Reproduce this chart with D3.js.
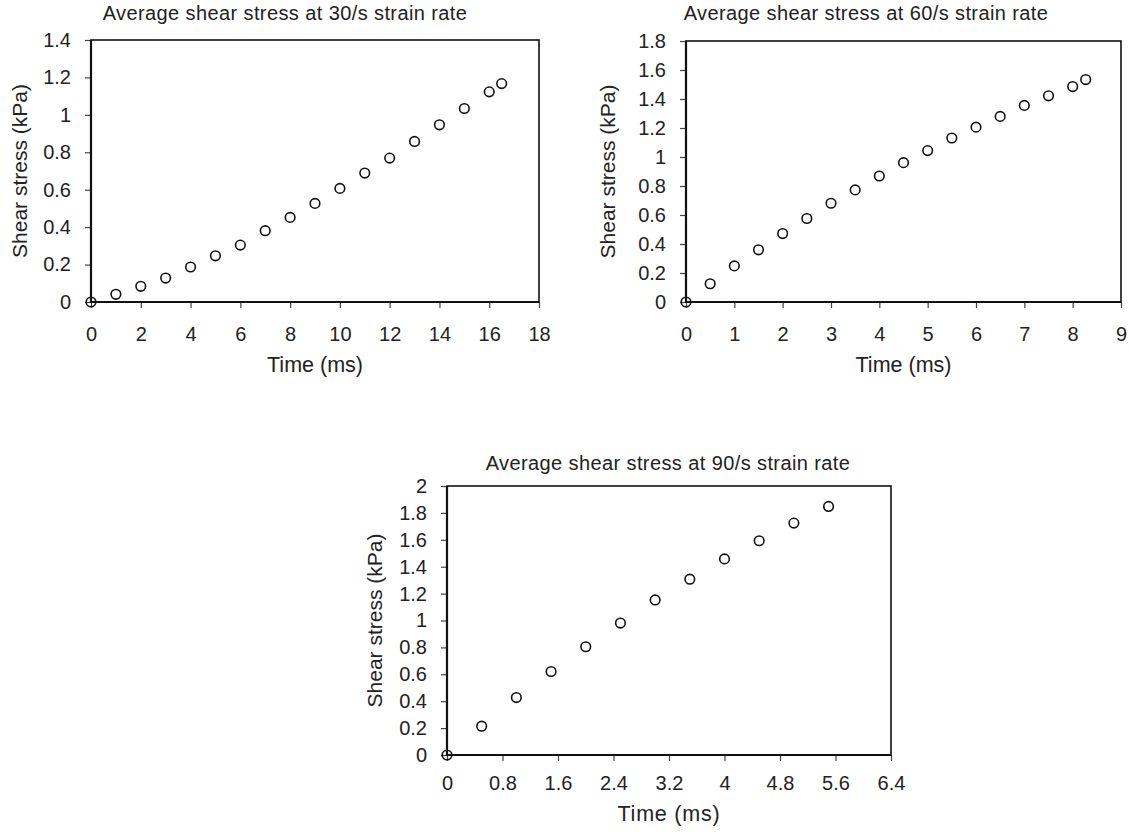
<!doctype html>
<html>
<head>
<meta charset="utf-8">
<script src="https://d3js.org/d3.v7.min.js"></script>
<style>
  body { margin: 0; background: #fff; }
  text { font-family: "Liberation Sans", Arial, sans-serif; fill: #222; }
  .tick line { stroke: #444; stroke-width: 1.2; }
  .tick text { font-size: 20px; }
</style>
</head>
<body>
<svg width="1130" height="833"></svg>
<script>
// 30/s strain rate
var time30 = [0, 1, 2, 3, 4, 5, 6, 7, 8, 9, 10, 11, 12, 13, 14, 15, 16, 16.5];
var stress30 = [0, 0.041, 0.084, 0.128, 0.187, 0.247, 0.304, 0.381, 0.452, 0.527, 0.607, 0.689, 0.769, 0.858, 0.947, 1.034, 1.123, 1.167];
var xTicks30 = [0, 2, 4, 6, 8, 10, 12, 14, 16, 18];
var yTicks30 = [0, 0.2, 0.4, 0.6, 0.8, 1, 1.2, 1.4];

// 60/s strain rate
var time60 = [0, 0.5, 1, 1.5, 2, 2.5, 3, 3.5, 4, 4.5, 5, 5.5, 6, 6.5, 7, 7.5, 8, 8.27];
var stress60 = [0, 0.126, 0.249, 0.360, 0.472, 0.576, 0.681, 0.773, 0.869, 0.961, 1.044, 1.131, 1.206, 1.280, 1.356, 1.422, 1.486, 1.534];
var xTicks60 = [0, 1, 2, 3, 4, 5, 6, 7, 8, 9];
var yTicks60 = [0, 0.2, 0.4, 0.6, 0.8, 1, 1.2, 1.4, 1.6, 1.8];

// 90/s strain rate
var time90 = [0, 0.5, 1, 1.5, 2, 2.5, 3, 3.5, 4, 4.5, 5, 5.5];
var stress90 = [0, 0.214, 0.427, 0.621, 0.805, 0.981, 1.153, 1.307, 1.458, 1.593, 1.724, 1.848];
var xTicks90 = [0, 0.8, 1.6, 2.4, 3.2, 4, 4.8, 5.6, 6.4];
var yTicks90 = [0, 0.2, 0.4, 0.6, 0.8, 1, 1.2, 1.4, 1.6, 1.8, 2];

var svg = d3.select("svg");
var fmt = function(d) { return String(+d.toFixed(1)); };

function drawPanel(p) {
    var x = d3.scaleLinear().domain([0, p.xMax]).range([p.left, p.right]);
    var y = d3.scaleLinear().domain([0, p.yMax]).range([p.bottom, p.top]);
    var g = svg.append("g");

    g.append("text")
     .attr("x", p.titleX)
     .attr("y", p.titleY)
     .attr("text-anchor", "middle")
     .attr("font-size", "20px")
     .attr("letter-spacing", "0.4px")
     .text(p.title);

    var ax = g.append("g")
              .attr("transform", "translate(0," + p.bottom + ")")
              .call(d3.axisBottom(x).tickValues(p.xTicks).tickFormat(fmt).tickSize(6).tickPadding(p.xPad));
    ax.select(".domain").remove();

    var ay = g.append("g")
              .attr("transform", "translate(" + p.left + ",0)")
              .call(d3.axisLeft(y).tickValues(p.yTicks).tickFormat(fmt).tickSize(6).tickPadding(14));
    ay.select(".domain").remove();

    // plot frame
    g.append("rect")
     .attr("x", p.left).attr("y", p.top)
     .attr("width", p.right - p.left).attr("height", p.bottom - p.top)
     .attr("fill", "none").attr("stroke", "#111").attr("stroke-width", 1.6);
    g.append("path")
     .attr("d", "M" + p.left + "," + p.top + "V" + p.bottom + "H" + p.right)
     .attr("fill", "none").attr("stroke", "#111").attr("stroke-width", 2.2);

    g.append("text")
     .attr("x", (p.left + p.right) / 2)
     .attr("y", p.xLabelY)
     .attr("text-anchor", "middle")
     .attr("font-size", "21.5px")
     .attr("letter-spacing", p.xLabelSpacing)
     .text("Time (ms)");

    g.append("text")
     .attr("transform", "translate(" + p.yLabelX + "," + ((p.top + p.bottom) / 2) + ") rotate(-90)")
     .attr("text-anchor", "middle")
     .attr("dominant-baseline", "central")
     .attr("font-size", "21px")
     .text("Shear stress (kPa)");

    g.selectAll("circle.pt")
     .data(p.xs)
     .enter().append("circle")
     .attr("class", "pt")
     .attr("cx", function(d) { return x(d); })
     .attr("cy", function(d, i) { return y(p.ys[i]); })
     .attr("r", 4.8)
     .attr("fill", "none")
     .attr("stroke", "#111")
     .attr("stroke-width", 1.6);
}

drawPanel({
    title: "Average shear stress at 30/s strain rate", titleX: 285, titleY: 20,
    left: 91, right: 539, top: 40, bottom: 302,
    xMax: 18, yMax: 1.4, xTicks: xTicks30, yTicks: yTicks30, xPad: 19,
    xLabelY: 372, xLabelSpacing: "0px", yLabelX: 19,
    xs: time30, ys: stress30
});

drawPanel({
    title: "Average shear stress at 60/s strain rate", titleX: 866, titleY: 20,
    left: 686, right: 1121, top: 41, bottom: 302,
    xMax: 9, yMax: 1.8, xTicks: xTicks60, yTicks: yTicks60, xPad: 19,
    xLabelY: 372, xLabelSpacing: "0px", yLabelX: 607,
    xs: time60, ys: stress60
});

drawPanel({
    title: "Average shear stress at 90/s strain rate", titleX: 668, titleY: 470,
    left: 447, right: 891, top: 486, bottom: 755,
    xMax: 6.4, yMax: 2, xTicks: xTicks90, yTicks: yTicks90, xPad: 15,
    xLabelY: 821, xLabelSpacing: "0.8px", yLabelX: 374,
    xs: time90, ys: stress90
});
</script>
</body>
</html>
